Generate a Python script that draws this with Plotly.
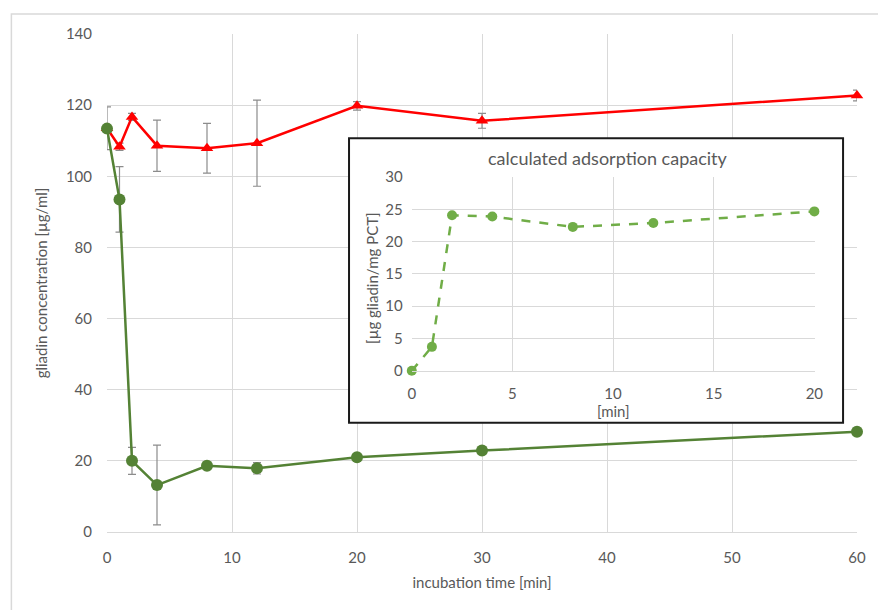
import plotly.graph_objects as go

# ---- data ----
time_min = [0, 1, 2, 4, 8, 12, 20, 30, 60]
control = [113.5, 108.3, 116.7, 108.6, 107.9, 109.3, 119.8, 115.6, 122.7]
control_err = [6.0, 1.0, 1.0, 7.2, 7.0, 12.1, 1.2, 2.1, 1.5]
pct = [113.4, 93.5, 20.0, 13.2, 18.6, 17.9, 21.0, 22.9, 28.2]
pct_err = [1.0, 9.2, 3.8, 11.2, 1.0, 1.6, 0.8, 1.0, 0.8]

inset_time = [0, 1, 2, 4, 8, 12, 20]
capacity = [0, 3.7, 24.1, 23.9, 22.3, 22.9, 24.7]

main_xticks = [0, 10, 20, 30, 40, 50, 60]
main_yticks = [0, 20, 40, 60, 80, 100, 120, 140]
inset_xticks = [0, 5, 10, 15, 20]
inset_yticks = [0, 5, 10, 15, 20, 25, 30]

FONT = "Lato"
TICK = "#595959"
GRID = "#d9d9d9"
RED = "#ff0000"
DGREEN = "#548235"
LGREEN = "#70ad47"
ERR = "#8c8c8c"

fig = go.Figure()

fig.add_trace(go.Scatter(
    x=time_min, y=control, mode="lines+markers",
    line=dict(color=RED, width=2.5),
    marker=dict(symbol="triangle-up", size=11, color=RED),
    error_y=dict(type="data", array=control_err, color=ERR, thickness=1.2, width=4),
    xaxis="x", yaxis="y", showlegend=False, cliponaxis=False))

fig.add_trace(go.Scatter(
    x=time_min, y=pct, mode="lines+markers",
    line=dict(color=DGREEN, width=2.5),
    marker=dict(symbol="circle", size=12, color=DGREEN),
    error_y=dict(type="data", array=pct_err, color=ERR, thickness=1.2, width=4),
    xaxis="x", yaxis="y", showlegend=False, cliponaxis=False))

fig.add_trace(go.Scatter(
    x=inset_time, y=capacity, mode="lines+markers",
    line=dict(color=LGREEN, width=2.5, dash="dash"),
    marker=dict(symbol="circle", size=10, color=LGREEN),
    xaxis="x2", yaxis="y2", showlegend=False, cliponaxis=False))

# plot area geometry (pixels)
W, H = 878, 610
L, R, T, B = 107, 18, 34, 78
pw, ph = W - L - R, H - T - B
XMAX, YMAX = 60, 140

def fx(px):
    return (px - L) / pw

def fy(py):
    return (H - B - py) / ph

fig.update_layout(
    width=W, height=H,
    margin=dict(l=L, r=R, t=T, b=B),
    paper_bgcolor="white", plot_bgcolor="white",
    font=dict(family=FONT, color=TICK, size=14),
    xaxis=dict(range=[0, XMAX], tickvals=main_xticks, showgrid=True, gridcolor=GRID,
               gridwidth=1, zeroline=False, showline=True, linecolor=GRID,
               tickfont=dict(size=15, color=TICK), ticklabelstandoff=12,
               title=dict(text="incubation time [min]", font=dict(size=15, color=TICK), standoff=12)),
    yaxis=dict(range=[0, YMAX], tickvals=main_yticks, showgrid=True, gridcolor=GRID,
               gridwidth=1, zeroline=False, showline=False,
               tickfont=dict(size=15, color=TICK), ticklabelstandoff=14,
               title=dict(text="gliadin concentration [µg/ml]", font=dict(size=15, color=TICK), standoff=14)),
    xaxis2=dict(domain=[fx(413), fx(818)], anchor="y2", range=[0, 20.04], tickvals=inset_xticks,
                showgrid=True, gridcolor=GRID, zeroline=False, showline=True, linecolor=GRID,
                tickfont=dict(size=15, color=TICK), ticklabelstandoff=9),
    yaxis2=dict(domain=[fy(370.7), fy(176.7)], anchor="x2", range=[0, 30.08], tickvals=inset_yticks,
                showgrid=True, gridcolor=GRID, gridwidth=1, zeroline=False, showline=False,
                tickfont=dict(size=15, color=TICK), ticklabelstandoff=8),
)

# inset box, tied to the main subplot so it sits above the main grid but below the inset
fig.add_shape(type="rect", xref="x", yref="y",
              x0=fx(350) * XMAX, x1=fx(846) * XMAX, y0=fy(422.7) * YMAX, y1=fy(138.3) * YMAX,
              line=dict(color="#1a1a1a", width=2), fillcolor="white", layer="between")

# outer chart border
fig.add_shape(type="rect", xref="paper", yref="paper",
              x0=fx(11), x1=fx(884), y0=fy(616), y1=fy(14),
              line=dict(color=GRID, width=1.5), fillcolor="rgba(0,0,0,0)", layer="below")

fig.add_annotation(xref="paper", yref="paper", x=fx(610), y=fy(158),
                   text="calculated adsorption capacity", showarrow=False,
                   font=dict(size=18, color=TICK), xanchor="center", yanchor="middle")
fig.add_annotation(xref="paper", yref="paper", x=fx(373), y=fy(278),
                   text="[µg gliadin/mg PCT]", showarrow=False, textangle=-90,
                   font=dict(size=15, color=TICK), xanchor="center", yanchor="middle")
fig.add_annotation(xref="paper", yref="paper", x=fx(616), y=fy(411),
                   text="[min]", showarrow=False,
                   font=dict(size=15, color=TICK), xanchor="center", yanchor="middle")

fig.write_html("out.html")
